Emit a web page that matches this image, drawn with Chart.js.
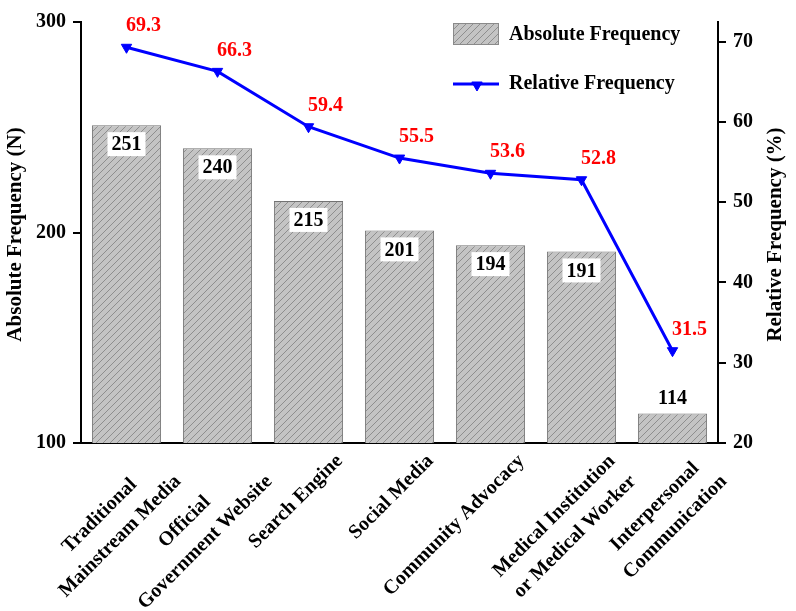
<!DOCTYPE html>
<html>
<head>
<meta charset="UTF-8">
<title>Absolute and relative frequency</title>
<script src="https://cdn.jsdelivr.net/npm/chart.js@4.4.1/dist/chart.umd.min.js"></script>
<style>
  html, body { margin: 0; padding: 0; background: #fff; }
</style>
</head>
<body>
<canvas id="chart" width="796" height="611"></canvas>
<script>
// data
const categories = [
  ['Traditional', 'Mainstream Media'],
  ['Official', 'Government Website'],
  'Search Engine',
  'Social Media',
  'Community Advocacy',
  ['Medical Institution', 'or Medical Worker'],
  ['Interpersonal', 'Communication']
];
const absoluteFreq = [251, 240, 215, 201, 194, 191, 114];
const relativeFreq = [69.3, 66.3, 59.4, 55.5, 53.6, 52.8, 31.5];
const leftTicks = [100, 200, 300];
const rightTicks = [20, 30, 40, 50, 60, 70];

const SERIF = "'Liberation Serif', 'Times New Roman', serif";
const FONT = "bold 20px " + SERIF;
Chart.defaults.font.family = SERIF;
Chart.defaults.font.size = 20;
Chart.defaults.font.weight = 'bold';
Chart.defaults.color = '#000';

const canvas = document.getElementById('chart');
const ctx = canvas.getContext('2d');

// grey fill with diagonal hatching
function makeHatch() {
  const c = document.createElement('canvas');
  c.width = 7; c.height = 7;
  const g = c.getContext('2d');
  g.fillStyle = '#c4c4c4';
  g.fillRect(0, 0, 7, 7);
  g.strokeStyle = '#808080';
  g.lineWidth = 0.8;
  g.beginPath();
  g.moveTo(0, 7); g.lineTo(7, 0);
  g.moveTo(-1, 1); g.lineTo(1, -1);
  g.moveTo(6, 8); g.lineTo(8, 6);
  g.stroke();
  return ctx.createPattern(c, 'repeat');
}
const hatch = makeHatch();

const decorations = {
  id: 'decorations',
  afterDatasetsDraw(chart) {
    const c = chart.ctx, area = chart.chartArea;
    const xs = chart.scales.x;
    c.save();
    c.font = FONT;
    c.textAlign = 'center';
    c.textBaseline = 'middle';

    // bar value labels in white boxes
    chart.getDatasetMeta(0).data.forEach((bar, i) => {
      const txt = String(absoluteFreq[i]);
      const inside = (area.bottom - bar.y) > 40;
      const cy = inside ? bar.y + 19 : bar.y - 16;
      const w = c.measureText(txt).width + 8;
      c.fillStyle = '#fff';
      c.fillRect(bar.x - w / 2, cy - 12, w, 24);
      c.fillStyle = '#000';
      c.fillText(txt, bar.x, cy + 1);
    });

    // red labels for the line
    c.fillStyle = '#ff0000';
    chart.getDatasetMeta(1).data.forEach((pt, i) => {
      c.fillText(relativeFreq[i].toFixed(1), pt.x + 17, pt.y - 21);
    });

    // legend
    c.fillStyle = hatch;
    c.fillRect(453, 23, 45, 21);
    c.strokeStyle = '#8a8a8a';
    c.lineWidth = 1;
    c.strokeRect(453.5, 23.5, 45, 21);
    c.fillStyle = '#000';
    c.textAlign = 'left';
    c.fillText('Absolute Frequency', 509, 35);
    c.strokeStyle = '#0000ff';
    c.lineWidth = 3;
    c.beginPath();
    c.moveTo(453, 84); c.lineTo(499, 84);
    c.stroke();
    c.fillStyle = '#0000ff';
    c.lineWidth = 1;
    Chart.helpers.drawPoint(c, {pointStyle: 'triangle', rotation: 180, radius: 6, borderWidth: 1}, 477, 85);
    c.fillStyle = '#000';
    c.fillText('Relative Frequency', 509, 84);

    // axis titles, both reading bottom to top
    const midY = (area.top + area.bottom) / 2 + 2;
    c.textAlign = 'center';
    c.font = "bold 21px " + SERIF;
    [[16, 'Absolute Frequency (N)'], [776, 'Relative Frequency (%)']].forEach(([tx, t]) => {
      c.save();
      c.translate(tx, midY);
      c.rotate(-Math.PI / 2);
      c.fillText(t, 0, 0);
      c.restore();
    });

    // rotated category labels, lines centred within the block
    c.font = FONT;
    categories.forEach((lab, i) => {
      const lines = Array.isArray(lab) ? lab : [lab];
      const tick = xs.getPixelForValue(i);
      const W = Math.max(...lines.map(l => c.measureText(l).width));
      c.save();
      c.translate(tick + 31, area.bottom + 15);
      c.rotate(-Math.PI / 4);
      lines.forEach((l, j) => c.fillText(l, -W / 2, j * 29));
      c.restore();
    });
    c.restore();
  }
};

new Chart(canvas, {
  type: 'bar',
  data: {
    labels: categories,
    datasets: [{
      label: 'Absolute Frequency',
      data: absoluteFreq,
      backgroundColor: hatch,
      borderColor: '#737373',
      borderWidth: 1,
      borderSkipped: 'bottom',
      categoryPercentage: 1,
      barPercentage: 0.76,
      yAxisID: 'y',
      order: 1
    }, {
      type: 'line',
      label: 'Relative Frequency',
      data: relativeFreq,
      borderColor: '#0000ff',
      backgroundColor: '#0000ff',
      borderWidth: 3,
      pointStyle: 'triangle',
      pointRotation: 180,
      pointRadius: 6,
      pointBorderWidth: 1,
      tension: 0,
      yAxisID: 'y1',
      order: 0
    }]
  },
  options: {
    responsive: false,
    animation: false,
    layout: {padding: {top: 22, left: 0, right: 0, bottom: 0}},
    plugins: {legend: {display: false}, tooltip: {enabled: false}},
    scales: {
      x: {
        offset: true,
        grid: {display: false},
        border: {display: true, color: '#000', width: 2},
        ticks: {display: false},
        afterFit: s => { s.height = 168; }
      },
      y: {
        position: 'left',
        min: 100, max: 300,
        afterBuildTicks: s => { s.ticks = leftTicks.map(v => ({value: v})); },
        grid: {drawOnChartArea: false, color: '#000', lineWidth: 2, tickLength: 8},
        border: {display: true, color: '#000', width: 2},
        ticks: {padding: 7, font: {size: 20, weight: 'bold'}, color: '#000'},
        afterFit: s => { s.width = 81; }
      },
      y1: {
        position: 'right',
        min: 20, max: 72.45,
        afterBuildTicks: s => { s.ticks = rightTicks.map(v => ({value: v})); },
        grid: {drawOnChartArea: false, color: '#000', lineWidth: 2, tickLength: 8},
        border: {display: true, color: '#000', width: 2},
        ticks: {padding: 7, font: {size: 20, weight: 'bold'}, color: '#000'},
        afterFit: s => { s.width = 78; }
      }
    }
  },
  plugins: [decorations]
});
</script>
</body>
</html>
